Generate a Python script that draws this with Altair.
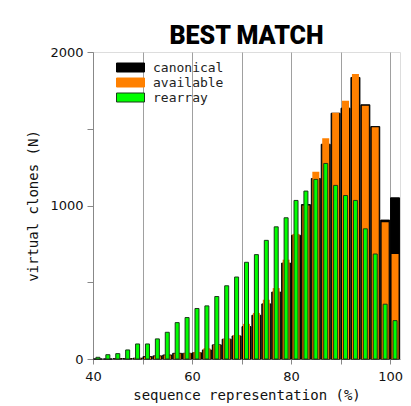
import altair as alt
import pandas as pd

# bin centres (sequence representation, %)
bins = [41, 43, 45, 47, 49, 51, 53, 55, 57, 59, 61, 63, 65, 67, 69, 71,
        73, 75, 77, 79, 81, 83, 85, 87, 89, 91, 93, 95, 97, 99, 101]

canonical = [0, 0, 3, 3, 5, 15, 20, 26, 37, 37, 41, 59, 92, 129, 150, 211,
             285, 359, 436, 625, 806, 1006, 1176, 1399, 1601, 1634, 1834, 1656, 1514, 905, 1050]

available = [0, 0, 2, 2, 4, 12, 18, 24, 35, 38, 46, 70, 92, 131, 157, 229,
             300, 386, 462, 647, 815, 1000, 1220, 1438, 1605, 1682, 1856, 1650, 1510, 891, 684]

rearray = [11, 28, 35, 59, 98, 98, 131, 174, 237, 270, 329, 346, 407, 477, 534, 630,
           680, 773, 861, 920, 1033, 1094, 1170, 1274, 1131, 1065, 1033, 848, 684, 357, 250]

series_names = ["canonical", "available", "rearray"]
fill_colors = ["#000000", "#ff8000", "#00ff00"]
stroke_colors = ["#000000", "#ff8000", "#1a3a1a"]

rows = []
for name, vals in zip(series_names, [canonical, available, rearray]):
    for b, v in zip(bins, vals):
        rows.append({"bin": b, "count": v, "series": name})
df = pd.DataFrame(rows)

x_enc = alt.X(
    "bin:Q",
    scale=alt.Scale(domain=[40, 102], nice=False, zero=False, padding=0),
    axis=alt.Axis(
        values=[40, 50, 60, 70, 80, 90, 100],
        labelExpr="datum.value % 20 == 0 ? datum.label : ''",
        labelFlush=False,
        title="sequence representation (%)",
        grid=True,
        gridColor="#a0a0a0",
        gridWidth=1,
        domainColor="#888888",
        tickColor="#888888",
        tickSize=5,
        labelFont="DejaVu Sans",
        labelFontSize=13,
        labelColor="#111111",
        labelPadding=6,
        titleFont="DejaVu Sans Mono",
        titleFontSize=14,
        titleFontWeight="normal",
        titleColor="#111111",
        titlePadding=5,
    ),
)
y_enc = alt.Y(
    "count:Q",
    scale=alt.Scale(domain=[0, 2000], nice=False, padding=0),
    axis=alt.Axis(
        values=[0, 500, 1000, 1500, 2000],
        labelExpr="datum.value % 1000 == 0 ? datum.label : ''",
        labelFlush=False,
        format="d",
        title="virtual clones (N)",
        grid=False,
        domainColor="#888888",
        tickColor="#888888",
        tickSize=6,
        labelFont="DejaVu Sans",
        labelFontSize=13,
        labelColor="#111111",
        labelPadding=4,
        titleFont="DejaVu Sans Mono",
        titleFontSize=14,
        titleFontWeight="normal",
        titleColor="#111111",
        titlePadding=9,
    ),
)

legend = alt.Legend(
    title=None,
    orient="none",
    legendX=31,
    legendY=9,
    padding=0,
    symbolType="M-2.8,-0.9L2.8,-0.9L2.8,0.9L-2.8,0.9Z",
    symbolSize=100,
    symbolStrokeWidth=1,
    labelFont="DejaVu Sans Mono",
    labelFontSize=13,
    labelColor="#222222",
    labelOffset=16,
    rowPadding=1,
)

fill_enc = alt.Fill("series:N", scale=alt.Scale(domain=series_names, range=fill_colors), legend=legend)
stroke_enc = alt.Stroke("series:N", scale=alt.Scale(domain=series_names, range=stroke_colors), legend=legend)

base = alt.Chart(df).encode(x=x_enc, y=y_enc, fill=fill_enc, stroke=stroke_enc)

black = base.transform_filter(alt.datum.series == "canonical").mark_bar(size=9, strokeWidth=1, opacity=1)
orange = base.transform_filter(alt.datum.series == "available").mark_bar(size=7, strokeWidth=0, opacity=1)
green = base.transform_filter(alt.datum.series == "rearray").mark_bar(size=4, strokeWidth=1, opacity=1)

chart = alt.layer(black, orange, green).properties(
    width=307,
    height=307,
    padding={"left": 93, "top": 52, "right": 11, "bottom": 47},
    autosize=alt.AutoSizeParams(type="none"),
    title=alt.TitleParams(
        "BEST MATCH",
        font="Roboto",
        fontSize=25,
        fontWeight=900,
        color="#000000",
        anchor="middle",
        offset=-3,
    ),
).configure_view(stroke=None).configure(background="white")

chart.save("out.html", embed_options={"renderer": "svg", "actions": False})
